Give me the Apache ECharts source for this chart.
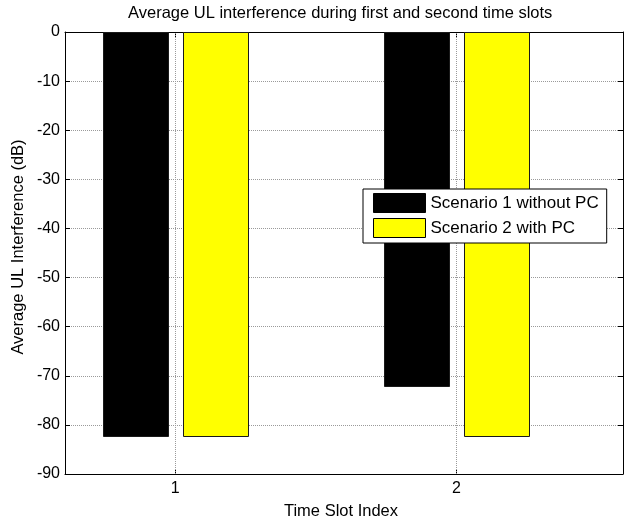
<!DOCTYPE html>
<html>
<head>
<meta charset="utf-8">
<script src="https://cdn.jsdelivr.net/npm/echarts@6/dist/echarts.min.js"></script>
<style>html,body{margin:0;padding:0;background:#fff}#c{width:624px;height:525px}</style>
</head>
<body>
<div id="c"></div>
<script>
const categories = [1, 2];
const seriesNames = ['Scenario 1 without PC', 'Scenario 2 with PC'];
const scenario1 = [-82.2, -72];
const scenario2 = [-82.2, -82.2];
const yTicks = [0, -10, -20, -30, -40, -50, -60, -70, -80, -90];

const FONT = '"Liberation Sans", Arial, sans-serif';
const colors = ['#000000', '#ffff00'];
const groupOffsets = [-0.1425, 0.1425];
const barW = 0.23;

function makeBar(idx, values) {
  return {
    name: seriesNames[idx],
    type: 'custom',
    xAxisIndex: 0, yAxisIndex: 0,
    itemStyle: { color: colors[idx], borderColor: '#000', borderWidth: 1 },
    data: categories.map((c, i) => [c, values[i]]),
    encode: { x: 0, y: 1 },
    renderItem: function (params, api) {
      const x = api.value(0) + groupOffsets[idx];
      const p0 = api.coord([x - barW / 2, 0]);
      const p1 = api.coord([x + barW / 2, api.value(1)]);
      return {
        type: 'rect',
        shape: { x: Math.round(p0[0]) + 0.5, y: Math.round(p0[1]) + 0.5, width: Math.round(p1[0] - p0[0]), height: Math.round(p1[1] - p0[1]) },
        style: { fill: colors[idx], stroke: '#1a1a1a', lineWidth: 1 }
      };
    },
    z: 3
  };
}

const gridLine = { color: '#9a9a9a', type: [1, 1], width: 1 };

const chart = echarts.init(document.getElementById('c'), null, { renderer: 'canvas' });
chart.setOption({
  animation: false,
  backgroundColor: '#fff',
  textStyle: { fontFamily: FONT },
  title: {
    text: 'Average UL interference during first and second time slots',
    left: 123, top: 0,
    textStyle: { fontFamily: FONT, fontSize: 16.5, fontWeight: 'normal', color: '#000' }
  },
  graphic: [{
    type: 'text',
    x: 18, y: 247,
    rotation: Math.PI / 2,
    style: {
      text: 'Average UL Interference (dB)',
      font: '16.5px "Liberation Sans", Arial, sans-serif',
      fill: '#000',
      align: 'center',
      verticalAlign: 'middle'
    }
  }],
  legend: {
    orient: 'vertical',
    left: 363, top: 189,
    padding: [4, 8, 5, 10],
    itemGap: 5,
    itemWidth: 52, itemHeight: 19,
    borderColor: '#000', borderWidth: 1,
    backgroundColor: '#fff',
    icon: 'rect',
    textStyle: { fontFamily: FONT, fontSize: 17, color: '#000', padding: [0, 0, 0, 0] },
    data: [
      { name: seriesNames[0], itemStyle: { color: colors[0], borderColor: '#000', borderWidth: 1 } },
      { name: seriesNames[1], itemStyle: { color: colors[1], borderColor: '#000', borderWidth: 1 } }
    ],
    z: 10
  },
  grid: { left: 65, right: 1, top: 32, bottom: 49, containLabel: false },
  xAxis: [
    {
      type: 'value', min: 0.608, max: 2.592, position: 'bottom',
      name: 'Time Slot Index', nameLocation: 'middle', nameGap: 29,
      nameTextStyle: { fontFamily: FONT, fontSize: 16.5, color: '#000', padding: [0, 6, 0, 0] },
      axisLine: { show: true, onZero: false, lineStyle: { color: '#000', width: 1 } },
      axisTick: { show: true, inside: true, length: 5, customValues: categories, lineStyle: { color: '#000' } },
      axisLabel: { show: true, customValues: categories, margin: 7, fontFamily: FONT, fontSize: 16, color: '#000' },
      splitLine: { show: false }
    },
    {
      type: 'value', min: 0.608, max: 2.592, position: 'top',
      axisLine: { show: true, onZero: false, lineStyle: { color: '#000', width: 1 } },
      axisTick: { show: true, inside: true, length: 5, customValues: categories, lineStyle: { color: '#000' } },
      axisLabel: { show: false },
      splitLine: { show: false }
    }
  ],
  yAxis: [
    {
      type: 'value', min: yTicks[yTicks.length - 1], max: yTicks[0], interval: 10, position: 'left',
      axisLine: { show: true, onZero: false, lineStyle: { color: '#000', width: 1 } },
      axisTick: { show: true, inside: true, length: 5, lineStyle: { color: '#000' } },
      axisLabel: { margin: 5, fontFamily: FONT, fontSize: 16, color: '#000' },
      splitLine: { show: true, lineStyle: gridLine }
    },
    {
      type: 'value', min: yTicks[yTicks.length - 1], max: yTicks[0], interval: 10, position: 'right',
      axisLine: { show: true, onZero: false, lineStyle: { color: '#000', width: 1 } },
      axisTick: { show: true, inside: true, length: 5, lineStyle: { color: '#000' } },
      axisLabel: { show: false },
      splitLine: { show: false }
    }
  ],
  series: [
    makeBar(0, scenario1),
    makeBar(1, scenario2),
    {
      type: 'line', name: '_grid', data: [], xAxisIndex: 0, yAxisIndex: 0,
      silent: true, z: 1,
      markLine: {
        silent: true, symbol: 'none', label: { show: false },
        lineStyle: gridLine,
        data: categories.map(c => ({ xAxis: c }))
      }
    }
  ]
});
</script>
</body>
</html>
